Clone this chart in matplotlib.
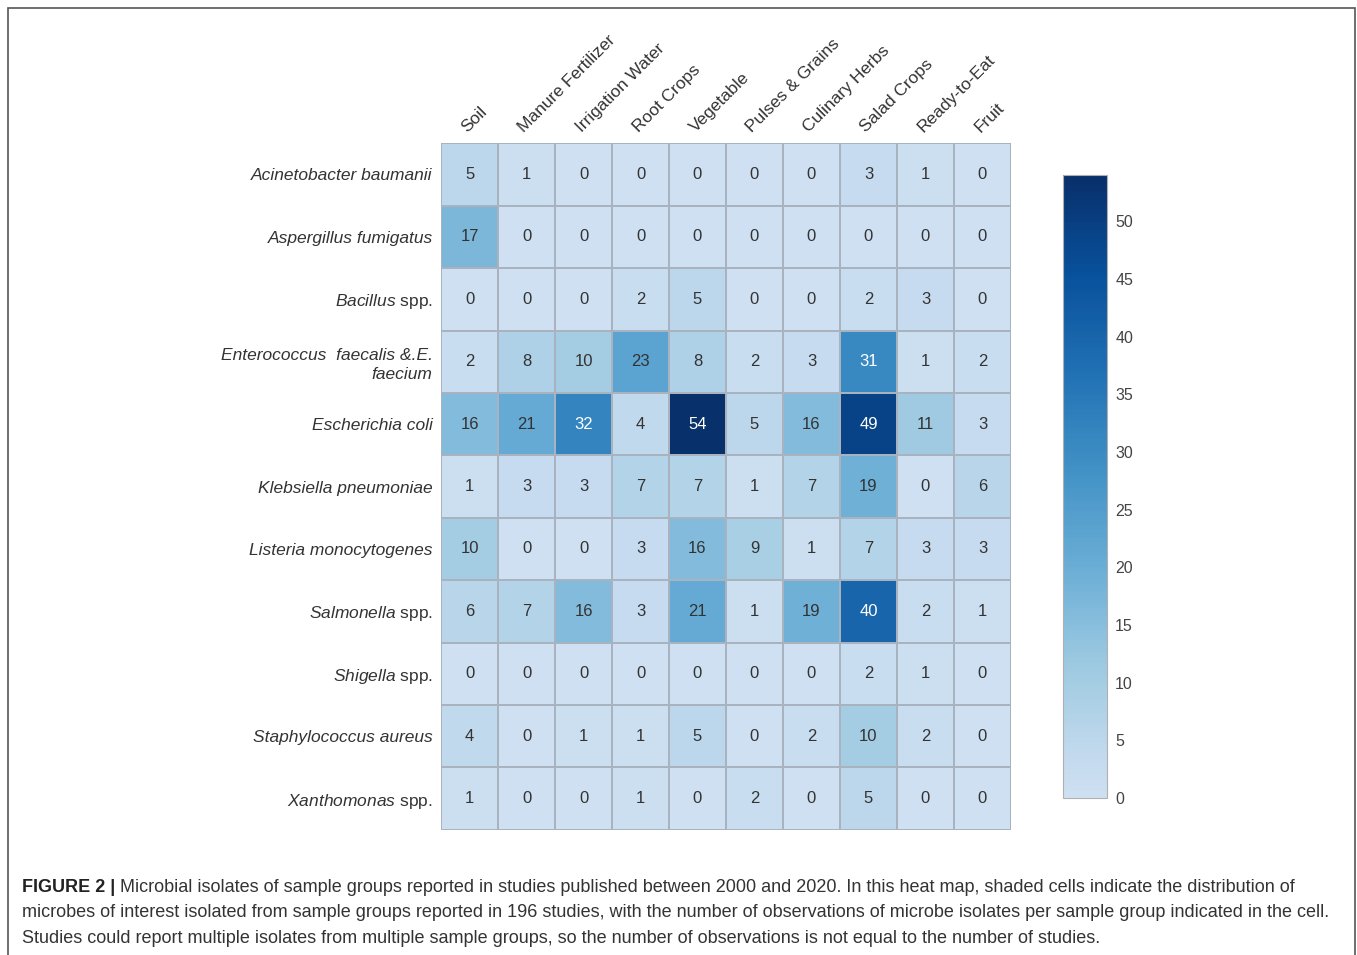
import numpy as np
import matplotlib
matplotlib.use("Agg")
import matplotlib.pyplot as plt
from matplotlib.colors import LinearSegmentedColormap
from matplotlib.patches import Rectangle

plt.rcParams['font.family'] = ['Liberation Sans', 'DejaVu Sans']
plt.rcParams['mathtext.fontset'] = 'custom'
plt.rcParams['mathtext.it'] = 'Liberation Sans:italic'
plt.rcParams['mathtext.rm'] = 'Liberation Sans'

# sample groups (columns) and microbes (rows)
groups = ['Soil', 'Manure Fertilizer', 'Irrigation Water', 'Root Crops', 'Vegetable',
          'Pulses & Grains', 'Culinary Herbs', 'Salad Crops', 'Ready-to-Eat', 'Fruit']
microbes = ['Acinetobacter baumanii',
            'Aspergillus fumigatus',
            r'$\it{Bacillus}$ spp.',
            'Enterococcus  faecalis &.E.\nfaecium',
            'Escherichia coli',
            'Klebsiella pneumoniae',
            'Listeria monocytogenes',
            r'$\it{Salmonella}$ spp.',
            r'$\it{Shigella}$ spp.',
            'Staphylococcus aureus',
            r'$\it{Xanthomonas}$ spp.']

counts = [
    [5, 1, 0, 0, 0, 0, 0, 3, 1, 0],
    [17, 0, 0, 0, 0, 0, 0, 0, 0, 0],
    [0, 0, 0, 2, 5, 0, 0, 2, 3, 0],
    [2, 8, 10, 23, 8, 2, 3, 31, 1, 2],
    [16, 21, 32, 4, 54, 5, 16, 49, 11, 3],
    [1, 3, 3, 7, 7, 1, 7, 19, 0, 6],
    [10, 0, 0, 3, 16, 9, 1, 7, 3, 3],
    [6, 7, 16, 3, 21, 1, 19, 40, 2, 1],
    [0, 0, 0, 0, 0, 0, 0, 2, 1, 0],
    [4, 0, 1, 1, 5, 0, 2, 10, 2, 0],
    [1, 0, 0, 1, 0, 2, 0, 5, 0, 0],
]
data = np.array(counts)

caption_bold = 'FIGURE 2 |'
caption_lines = [
    ' Microbial isolates of sample groups reported in studies published between 2000 and 2020. In this heat map, shaded cells indicate the distribution of',
    'microbes of interest isolated from sample groups reported in 196 studies, with the number of observations of microbe isolates per sample group indicated in the cell.',
    'Studies could report multiple isolates from multiple sample groups, so the number of observations is not equal to the number of studies.',
]

blues = plt.get_cmap('Blues')
cmap = LinearSegmentedColormap.from_list('blues_cut', blues(np.linspace(0.21, 1.0, 256)))

fig = plt.figure(figsize=(13.57, 9.55), dpi=100)
ax = fig.add_axes([0.325, 0.131, 0.42, 0.719])
mesh = ax.pcolormesh(data, cmap=cmap, vmin=0, vmax=54, edgecolors='#a8b3bf', linewidth=1.2)
ax.set_xlim(0, data.shape[1])
ax.set_ylim(data.shape[0], 0)

for i in range(data.shape[0]):
    for j in range(data.shape[1]):
        v = data[i, j]
        ax.text(j + 0.5, i + 0.5, str(v), ha='center', va='center', fontsize=12,
                color='white' if v >= 30 else '#333333')

ax.set_xticks(np.arange(data.shape[1]) + 0.5)
ax.set_xticklabels(groups, rotation=45, ha='left', va='bottom', rotation_mode='anchor',
                   fontsize=12.5, color='#333333')
ax.xaxis.tick_top()
ax.set_yticks(np.arange(data.shape[0]) + 0.5)
ax.set_yticklabels(microbes, fontsize=12.5, color='#333333', linespacing=1.35)
for lab in ax.get_yticklabels():
    if '$' not in lab.get_text():
        lab.set_fontstyle('italic')
ax.tick_params(axis='y', length=0, pad=6)
ax.tick_params(axis='x', length=0, pad=6)
for s in ax.spines.values():
    s.set_visible(False)

cax = fig.add_axes([0.7833, 0.1644, 0.0324, 0.652])
cb = fig.colorbar(mesh, cax=cax, ticks=np.arange(0, 55, 5))
cb.outline.set_edgecolor('#b0b0b0')
cb.outline.set_linewidth(0.8)
cax.tick_params(length=0, labelsize=11.5, labelcolor='#444444', pad=6)

# caption
y0 = 0.066
fs = 13
t = fig.text(22 / 1357, y0, caption_bold, fontsize=fs, fontweight='bold', color='#222222', va='baseline')
fig.canvas.draw()
bb = t.get_window_extent()
fig.text(bb.x1 / 1357, y0, caption_lines[0], fontsize=fs, color='#333333', va='baseline')
fig.text(22 / 1357, y0 - 25.5 / 955, caption_lines[1], fontsize=fs, color='#333333', va='baseline')
fig.text(22 / 1357, y0 - 51 / 955, caption_lines[2], fontsize=fs, color='#333333', va='baseline')

# outer frame
fig.patches.append(Rectangle((8 / 1357, -0.05), 1347 / 1357, 1.05 - 8 / 955, transform=fig.transFigure,
                             fill=False, edgecolor='#555555', linewidth=1.2))

fig.savefig('out.png', dpi=100)
